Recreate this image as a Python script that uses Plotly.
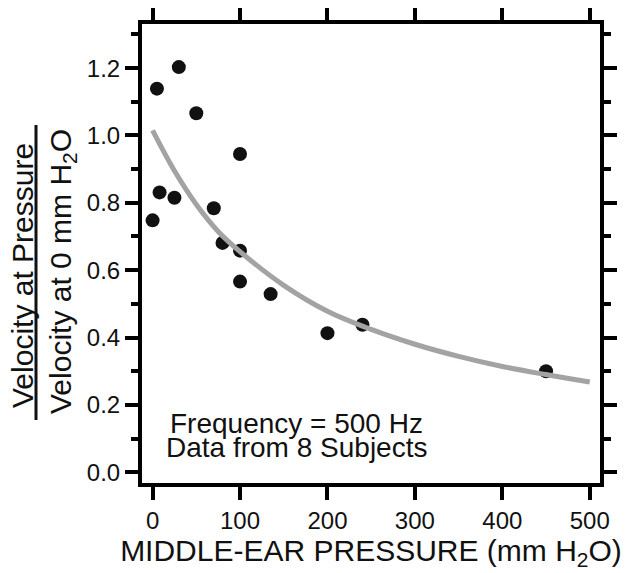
import plotly.graph_objects as go

# ---- data ----
pressure = [0, 5, 8, 25, 30, 50, 70, 80, 100, 100, 100, 135, 200, 240, 450]
ratio = [0.748, 1.139, 0.831, 0.815, 1.203, 1.066, 0.784, 0.681, 0.945, 0.658,
         0.566, 0.529, 0.413, 0.438, 0.300]

fit_pressure = [0, 25, 50, 75, 100, 150, 200, 250, 300, 350, 400, 450, 500]
fit_ratio = [1.015, 0.895, 0.795, 0.715, 0.655, 0.555, 0.478, 0.424, 0.380,
             0.344, 0.314, 0.290, 0.268]

x_ticks = [0, 100, 200, 300, 400, 500]
y_ticks = [0.0, 0.2, 0.4, 0.6, 0.8, 1.0, 1.2]
y_tick_labels = ["0.0", "0.2", "0.4", "0.6", "0.8", "1.0", "1.2"]

note_lines = ["Frequency = 500 Hz", "Data from 8 Subjects"]
y_title_top = "Velocity at Pressure"
y_title_bottom = "Velocity at 0 mm H<sub>2</sub>O"
x_title = "MIDDLE-EAR PRESSURE (mm H<sub>2</sub>O)"

# ---- layout geometry (page has an 8px body margin) ----
OFF = 8
W, H = 631 - OFF, 573 - OFF
ML, MR, MT, MB = 142 - OFF, 31, 24 - OFF, 90
PW, PH = W - ML - MR, H - MT - MB


def px_to_paper_x(px):
    return (px - OFF - ML) / PW


def px_to_paper_y(py):
    return (H - MB - (py - OFF)) / PH


FONT = "Liberation Sans, Arial, Helvetica, sans-serif"

fig = go.Figure()
fig.add_trace(go.Scatter(
    x=pressure, y=ratio, mode="markers",
    marker=dict(size=14, color="#111111"),
    showlegend=False, hoverinfo="x+y"))
fig.add_trace(go.Scatter(
    x=fit_pressure, y=fit_ratio, mode="lines",
    line=dict(color="#a3a3a3", width=5, shape="spline"),
    showlegend=False, hoverinfo="skip"))

axis_common = dict(
    showline=True, linecolor="black", linewidth=4, mirror="allticks",
    ticks="outside", ticklen=13, tickwidth=4, tickcolor="black",
    showgrid=False, zeroline=False,
    tickfont=dict(family=FONT, size=24, color="#111111"),
)

fig.update_xaxes(
    range=[-12.1, 511.7], tickvals=x_ticks, automargin=False,
    title=dict(text=x_title, font=dict(family=FONT, size=30, color="#111111"),
               standoff=2),
    **axis_common)
fig.update_yaxes(
    range=[-0.032, 1.331], tickvals=y_ticks, ticktext=y_tick_labels,
    automargin=False,
    minor=dict(dtick=0.1, tick0=0, ticks="outside", ticklen=7, tickwidth=4,
               tickcolor="black", showgrid=False),
    **axis_common)

annotations = []
# note text inside plot
annotations.append(dict(x=165, y=0.146, xref="x", yref="y", text=note_lines[0],
                        showarrow=False, xanchor="center", yanchor="middle",
                        font=dict(family=FONT, size=28, color="#111111")))
annotations.append(dict(x=165, y=0.072, xref="x", yref="y", text=note_lines[1],
                        showarrow=False, xanchor="center", yanchor="middle",
                        font=dict(family=FONT, size=28, color="#111111")))
# y title as a fraction
annotations.append(dict(x=px_to_paper_x(22), y=px_to_paper_y(276), xref="paper",
                        yref="paper", text=y_title_top, textangle=-90,
                        showarrow=False, xanchor="center", yanchor="middle",
                        font=dict(family=FONT, size=30, color="#111111")))
annotations.append(dict(x=px_to_paper_x(62), y=px_to_paper_y(272), xref="paper",
                        yref="paper", text=y_title_bottom, textangle=-90,
                        showarrow=False, xanchor="center", yanchor="middle",
                        font=dict(family=FONT, size=30, color="#111111")))

shapes = [dict(type="line", xref="paper", yref="paper",
               x0=px_to_paper_x(36), x1=px_to_paper_x(36),
               y0=px_to_paper_y(125), y1=px_to_paper_y(420),
               line=dict(color="#111111", width=3))]

fig.update_layout(
    width=W, height=H,
    margin=dict(l=ML, r=MR, t=MT, b=MB, autoexpand=False),
    paper_bgcolor="white", plot_bgcolor="white",
    annotations=annotations, shapes=shapes,
    font=dict(family=FONT, color="#111111"),
)

fig.write_html("out.html")
